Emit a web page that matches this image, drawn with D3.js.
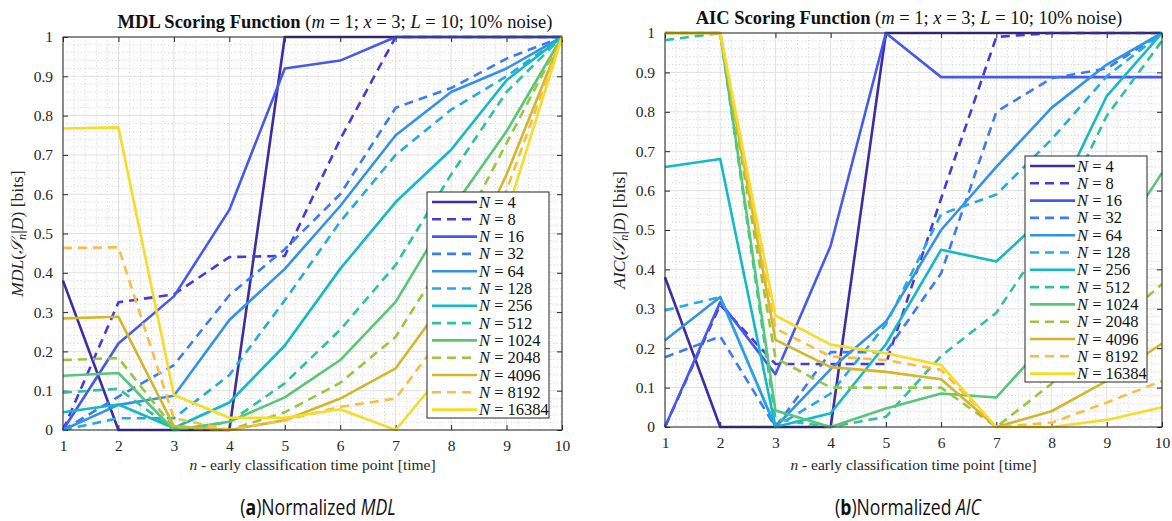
<!DOCTYPE html>
<html lang="en">
<head>
<meta charset="utf-8">
<title>MDL / AIC scoring</title>
<script src="https://d3js.org/d3.v7.min.js"></script>
<style>
  body { margin: 0; background: #fff; }
  svg { display: block; }
</style>
</head>
<body>
<svg id="chart" width="1172" height="521"></svg>
<script>
// time points n = 1..10
var timePoints = [1, 2, 3, 4, 5, 6, 7, 8, 9, 10];
var sampleSizes = [4, 8, 16, 32, 64, 128, 256, 512, 1024, 2048, 4096, 8192, 16384];
var yTicks = [0, 0.1, 0.2, 0.3, 0.4, 0.5, 0.6, 0.7, 0.8, 0.9, 1];

// normalized MDL, one row per N
var mdlValues = [
  [0.38, 0, 0, 0, 1, 1, 1, 1, 1, 1],
  [0, 0.325, 0.345, 0.44, 0.443, 0.74, 1, 1, 1, 1],
  [0, 0.22, 0.34, 0.56, 0.92, 0.94, 1, 1, 1, 1],
  [0, 0.085, 0.165, 0.343, 0.46, 0.6, 0.82, 0.87, 0.945, 1],
  [0, 0.064, 0.087, 0.28, 0.41, 0.57, 0.75, 0.86, 0.92, 1],
  [0, 0.03, 0.03, 0.14, 0.33, 0.53, 0.7, 0.815, 0.9, 1],
  [0.045, 0.065, 0.005, 0.07, 0.215, 0.41, 0.58, 0.713, 0.89, 1],
  [0.095, 0.105, 0, 0.02, 0.119, 0.255, 0.42, 0.65, 0.86, 1],
  [0.138, 0.145, 0, 0.021, 0.083, 0.178, 0.326, 0.56, 0.76, 1],
  [0.178, 0.183, 0.005, 0, 0.045, 0.12, 0.237, 0.46, 0.73, 1],
  [0.284, 0.288, 0.01, 0, 0.025, 0.08, 0.157, 0.35, 0.65, 1],
  [0.463, 0.465, 0.03, 0, 0.025, 0.059, 0.08, 0.27, 0.61, 1],
  [0.767, 0.77, 0.089, 0.031, 0.031, 0.053, 0, 0.17, 0.55, 1]
];

// normalized AIC, one row per N
var aicValues = [
  [0.38, 0, 0, 0, 1, 1, 1, 1, 1, 1],
  [0, 0.31, 0.16, 0.16, 0.16, 0.58, 0.99, 1, 1, 1],
  [0, 0.317, 0.134, 0.46, 1, 0.888, 0.888, 0.888, 0.888, 0.888],
  [0.177, 0.23, 0, 0.19, 0.19, 0.39, 0.8, 0.885, 0.91, 1],
  [0.22, 0.33, 0, 0.147, 0.267, 0.5, 0.66, 0.81, 0.92, 1],
  [0.296, 0.33, 0, 0.085, 0.26, 0.54, 0.59, 0.73, 0.89, 1],
  [0.66, 0.68, 0, 0.035, 0.21, 0.45, 0.42, 0.55, 0.84, 1],
  [0.982, 1, 0.02, 0, 0.026, 0.18, 0.29, 0.5, 0.79, 0.98],
  [1, 1, 0.042, 0, 0.047, 0.085, 0.075, 0.23, 0.43, 0.645],
  [1, 1, 0.175, 0.1, 0.1, 0.1, 0, 0.11, 0.24, 0.363],
  [1, 1, 0.221, 0.152, 0.14, 0.121, 0, 0.04, 0.117, 0.212],
  [1, 1, 0.25, 0.179, 0.17, 0.145, 0, 0.011, 0.062, 0.117],
  [1, 1, 0.283, 0.209, 0.187, 0.157, 0, 0, 0.018, 0.05]
];

var lineColors = ["#3d2ca6", "#4838e0", "#4658f2", "#3b7bf6", "#3192ee", "#23aae6",
                  "#12b9c6", "#2cc1a0", "#57c777", "#95c73f", "#d3b62b", "#fcbc43", "#f6dc25"];
var serif = "'Liberation Serif', 'DejaVu Serif', serif";

var svg = d3.select("#chart");

function drawPanel(p) {
  var x = d3.scaleLinear().domain([1, 10]).range([p.left, p.right]);
  var y = d3.scaleLinear().domain([0, 1]).range([p.bottom, p.top]);
  var g = svg.append("g");

  // minor grid (dotted)
  var minorX = d3.range(1, 10.001, 0.2).filter(function(v){ return Math.abs(v - Math.round(v)) > 0.01; });
  var minorY = d3.range(0, 1.0001, 0.02).filter(function(v){ return Math.abs(v*10 - Math.round(v*10)) > 0.01; });
  g.selectAll(".mx").data(minorX).enter().append("line")
    .attr("x1", x).attr("x2", x).attr("y1", p.top).attr("y2", p.bottom)
    .attr("stroke", "#d2d2d2").attr("stroke-width", 1).attr("stroke-dasharray", "1,2.5");
  g.selectAll(".my").data(minorY).enter().append("line")
    .attr("y1", y).attr("y2", y).attr("x1", p.left).attr("x2", p.right)
    .attr("stroke", "#d2d2d2").attr("stroke-width", 1).attr("stroke-dasharray", "1,2.5");

  // major grid
  g.selectAll(".gx").data(timePoints).enter().append("line")
    .attr("x1", x).attr("x2", x).attr("y1", p.top).attr("y2", p.bottom)
    .attr("stroke", "#e1e1e1").attr("stroke-width", 1);
  g.selectAll(".gy").data(yTicks).enter().append("line")
    .attr("y1", y).attr("y2", y).attr("x1", p.left).attr("x2", p.right)
    .attr("stroke", "#e1e1e1").attr("stroke-width", 1);

  // axes box with inward ticks
  var axisStyle = function(a) {
    a.select(".domain").remove();
    a.selectAll(".tick line").attr("stroke", "#262626");
    a.selectAll(".tick text").attr("font-family", serif).attr("font-size", 15.5).attr("fill", "#262626");
  };
  g.append("g").attr("transform", "translate(0," + p.bottom + ")")
    .call(d3.axisBottom(x).tickValues(timePoints).tickSize(-5).tickPadding(10).tickFormat(d3.format("d")))
    .call(axisStyle);
  g.append("g").attr("transform", "translate(0," + p.top + ")")
    .call(d3.axisTop(x).tickValues(timePoints).tickSize(-5).tickFormat(""))
    .call(axisStyle);
  g.append("g").attr("transform", "translate(" + p.left + ",0)")
    .call(d3.axisLeft(y).tickValues(yTicks).tickSize(-5).tickPadding(10).tickFormat(function(d){ return d3.format("")(+d.toFixed(1)); }))
    .call(axisStyle);
  g.append("g").attr("transform", "translate(" + p.right + ",0)")
    .call(d3.axisRight(y).tickValues(yTicks).tickSize(-5).tickFormat(""))
    .call(axisStyle);

  // series
  var line = d3.line().x(function(d, i){ return x(timePoints[i]); }).y(function(d){ return y(d); });
  g.selectAll(".series").data(p.values).enter().append("path")
    .attr("d", line)
    .attr("fill", "none")
    .attr("stroke", function(d, i){ return lineColors[i]; })
    .attr("stroke-width", 2.6)
    .attr("stroke-linejoin", "round")
    .attr("stroke-dasharray", function(d, i){ return i % 2 ? "9,6" : null; });

  g.append("rect").attr("x", p.left).attr("y", p.top)
    .attr("width", p.right - p.left).attr("height", p.bottom - p.top)
    .attr("fill", "none").attr("stroke", "#262626").attr("stroke-width", 1);

  // title
  var t = g.append("text").attr("x", p.titleX).attr("y", p.top - 9)
    .attr("text-anchor", "middle").attr("font-family", serif).attr("font-size", 18.5).attr("fill", "#111");
  t.append("tspan").attr("font-weight", "bold").text(p.name + " Scoring Function");
  t.append("tspan").text(" (");
  t.append("tspan").attr("font-style", "italic").text("m");
  t.append("tspan").text(" = 1; ");
  t.append("tspan").attr("font-style", "italic").text("x");
  t.append("tspan").text(" = 3; ");
  t.append("tspan").attr("font-style", "italic").text("L");
  t.append("tspan").text(" = 10; 10% noise)");

  // x label
  var xl = g.append("text").attr("x", (p.left + p.right) / 2).attr("y", 470)
    .attr("text-anchor", "middle").attr("font-family", serif).attr("font-size", 15.5).attr("fill", "#262626");
  xl.append("tspan").attr("font-style", "italic").text("n");
  xl.append("tspan").text(" - early classification time point [time]");

  // y label
  var cy = (p.top + p.bottom) / 2;
  var yl = g.append("text").attr("transform", "translate(" + (p.left - 40) + "," + cy + ") rotate(-90)")
    .attr("text-anchor", "middle").attr("font-family", serif).attr("font-size", 17.5).attr("fill", "#262626");
  yl.append("tspan").attr("font-style", "italic").text(p.name);
  yl.append("tspan").text("(");
  yl.append("tspan").attr("font-style", "italic").text("\uD835\uDCAE");
  yl.append("tspan").attr("font-style", "italic").attr("font-size", 12.5).attr("dy", 3).text("n");
  yl.append("tspan").attr("dy", -3).text("|");
  yl.append("tspan").attr("font-style", "italic").text("D");
  yl.append("tspan").text(")  [bits]");

  // legend
  var lg = g.append("g").attr("transform", "translate(" + p.legX + "," + p.legY + ")");
  lg.append("rect").attr("width", 122).attr("height", 226)
    .attr("fill", "#fff").attr("stroke", "#262626").attr("stroke-width", 1);
  var rows = lg.selectAll(".row").data(sampleSizes).enter().append("g")
    .attr("transform", function(d, i){ return "translate(0," + (10 + i * 17.3) + ")"; });
  rows.append("line").attr("x1", 5).attr("x2", 50).attr("y1", 0).attr("y2", 0)
    .attr("stroke", function(d, i){ return lineColors[i]; }).attr("stroke-width", 2.6)
    .attr("stroke-dasharray", function(d, i){ return i % 2 ? "9,6" : null; });
  var lt = rows.append("text").attr("x", 52).attr("y", 5.5)
    .attr("font-family", serif).attr("font-size", 16.5).attr("fill", "#111");
  lt.append("tspan").attr("font-style", "italic").text("N");
  lt.append("tspan").text(function(d){ return " = " + d; });

  // caption (condensed look)
  var cap = svg.append("text").attr("transform", "translate(" + p.capX + ",515) scale(0.8,1)")
    .attr("text-anchor", "middle").attr("font-family", "'Open Sans', 'Noto Sans', sans-serif")
    .attr("font-size", 22).attr("fill", "#111");
  cap.append("tspan").text("(");
  cap.append("tspan").attr("font-weight", "bold").text(p.letter);
  cap.append("tspan").text(")Normalized ");
  cap.append("tspan").attr("font-style", "italic").text(p.name);
}

drawPanel({ name: "MDL", letter: "a", values: mdlValues,
  left: 63, right: 562, top: 37, bottom: 430, titleX: 335, legX: 427, legY: 192, capX: 318 });
drawPanel({ name: "AIC", letter: "b", values: aicValues,
  left: 665, right: 1162, top: 33, bottom: 427, titleX: 909, legX: 1025, legY: 156, capX: 908 });
</script>
</body>
</html>
